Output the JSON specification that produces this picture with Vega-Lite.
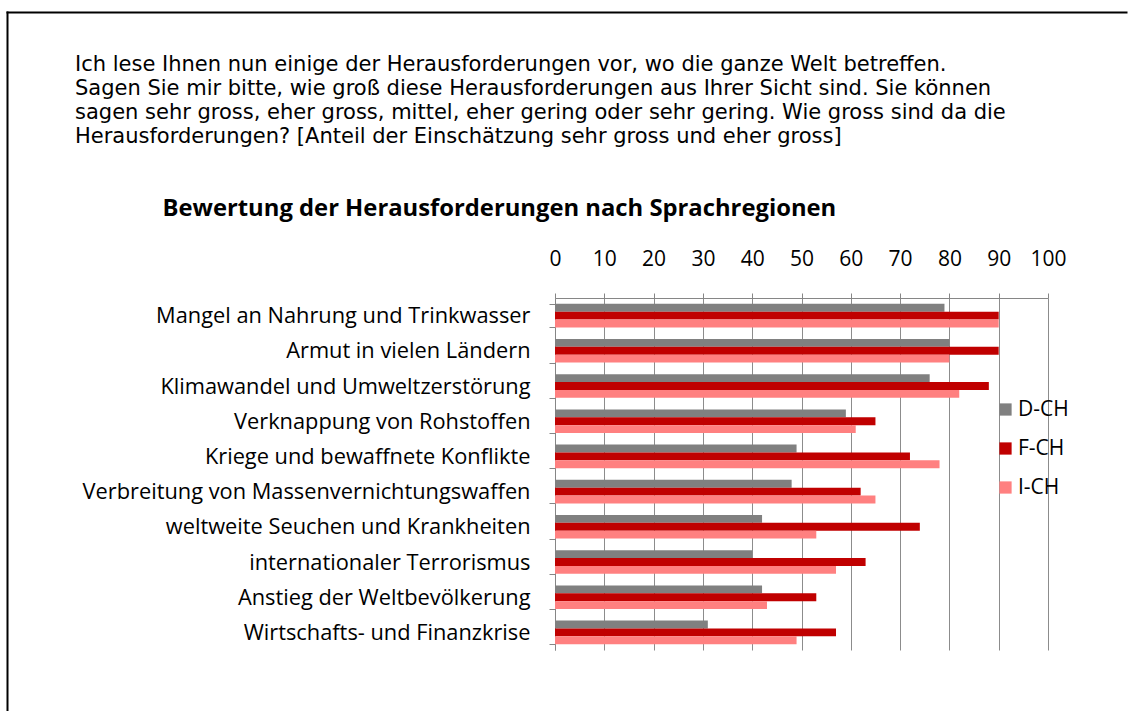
{
  "$schema": "https://vega.github.io/schema/vega-lite/v6.json",
  "width": 493,
  "height": 352,
  "autosize": {"type": "none"},
  "padding": {"left": 555, "top": 298, "right": 82, "bottom": 61},
  "background": "white",
  "title": {
    "text": [
      "Ich lese Ihnen nun einige der Herausforderungen vor, wo die ganze Welt betreffen.",
      "Sagen Sie mir bitte, wie groß diese Herausforderungen aus Ihrer Sicht sind. Sie können",
      "sagen sehr gross, eher gross, mittel, eher gering oder sehr gering. Wie gross sind da die",
      "Herausforderungen? [Anteil der Einschätzung sehr gross und eher gross]"
    ],
    "anchor": "start",
    "frame": "group",
    "dx": -480,
    "font": "DejaVu Sans",
    "fontSize": 21,
    "fontWeight": "normal",
    "lineHeight": 24,
    "color": "black",
    "offset": -135
  },
  "data": {
    "values": [
      {"item": "Mangel an Nahrung und Trinkwasser", "region": "D-CH", "value": 79},
      {"item": "Mangel an Nahrung und Trinkwasser", "region": "F-CH", "value": 90},
      {"item": "Mangel an Nahrung und Trinkwasser", "region": "I-CH", "value": 90},
      {"item": "Armut in vielen Ländern", "region": "D-CH", "value": 80},
      {"item": "Armut in vielen Ländern", "region": "F-CH", "value": 90},
      {"item": "Armut in vielen Ländern", "region": "I-CH", "value": 80},
      {"item": "Klimawandel und Umweltzerstörung", "region": "D-CH", "value": 76},
      {"item": "Klimawandel und Umweltzerstörung", "region": "F-CH", "value": 88},
      {"item": "Klimawandel und Umweltzerstörung", "region": "I-CH", "value": 82},
      {"item": "Verknappung von Rohstoffen", "region": "D-CH", "value": 59},
      {"item": "Verknappung von Rohstoffen", "region": "F-CH", "value": 65},
      {"item": "Verknappung von Rohstoffen", "region": "I-CH", "value": 61},
      {"item": "Kriege und bewaffnete Konflikte", "region": "D-CH", "value": 49},
      {"item": "Kriege und bewaffnete Konflikte", "region": "F-CH", "value": 72},
      {"item": "Kriege und bewaffnete Konflikte", "region": "I-CH", "value": 78},
      {"item": "Verbreitung von Massenvernichtungswaffen", "region": "D-CH", "value": 48},
      {"item": "Verbreitung von Massenvernichtungswaffen", "region": "F-CH", "value": 62},
      {"item": "Verbreitung von Massenvernichtungswaffen", "region": "I-CH", "value": 65},
      {"item": "weltweite Seuchen und Krankheiten", "region": "D-CH", "value": 42},
      {"item": "weltweite Seuchen und Krankheiten", "region": "F-CH", "value": 74},
      {"item": "weltweite Seuchen und Krankheiten", "region": "I-CH", "value": 53},
      {"item": "internationaler Terrorismus", "region": "D-CH", "value": 40},
      {"item": "internationaler Terrorismus", "region": "F-CH", "value": 63},
      {"item": "internationaler Terrorismus", "region": "I-CH", "value": 57},
      {"item": "Anstieg der Weltbevölkerung", "region": "D-CH", "value": 42},
      {"item": "Anstieg der Weltbevölkerung", "region": "F-CH", "value": 53},
      {"item": "Anstieg der Weltbevölkerung", "region": "I-CH", "value": 43},
      {"item": "Wirtschafts- und Finanzkrise", "region": "D-CH", "value": 31},
      {"item": "Wirtschafts- und Finanzkrise", "region": "F-CH", "value": 57},
      {"item": "Wirtschafts- und Finanzkrise", "region": "I-CH", "value": 49}
    ]
  },
  "layer": [
    {
      "mark": {"type": "bar"},
      "encoding": {
        "y": {
          "field": "item",
          "type": "nominal",
          "sort": null,
          "scale": {"paddingInner": 0.33, "paddingOuter": 0.165},
          "axis": {
            "title": null,
            "domainColor": "#868686",
            "tickColor": "#868686",
            "tickSize": 6,
            "tickBand": "extent",
            "labelFont": "Open Sans",
            "labelFontSize": 21.8,
            "labelColor": "black",
            "labelPadding": 19,
            "labelLimit": 600,
            "grid": false
          }
        },
        "x": {
          "field": "value",
          "type": "quantitative",
          "scale": {"domain": [0, 100], "nice": false},
          "axis": {
            "orient": "top",
            "values": [0, 10, 20, 30, 40, 50, 60, 70, 80, 90, 100],
            "grid": true,
            "gridColor": "#8c8c8c",
            "domainColor": "#868686",
            "tickColor": "#868686",
            "tickSize": 5,
            "labelFont": "Open Sans",
            "labelFontSize": 21,
            "labelColor": "black",
            "labelPadding": 24,
            "labelFlush": false,
            "labelOverlap": false,
            "title": "Bewertung der Herausforderungen nach Sprachregionen",
            "titleFont": "Open Sans",
            "titleFontSize": 23.8,
            "titleFontWeight": "bold",
            "titleColor": "black",
            "titleAnchor": "start",
            "titleAlign": "left",
            "titleBaseline": "alphabetic",
            "titleX": -393,
            "titleY": -83
          }
        },
        "yOffset": {"field": "region", "sort": ["D-CH", "F-CH", "I-CH"]},
        "color": {
          "field": "region",
          "type": "nominal",
          "scale": {"domain": ["D-CH", "F-CH", "I-CH"], "range": ["#808080", "#C00000", "#FF8080"]},
          "legend": {
            "title": null,
            "orient": "none",
            "legendX": 440,
            "legendY": 101,
            "symbolType": "square",
            "symbolSize": 150,
            "symbolStrokeWidth": 0,
            "labelFont": "Open Sans",
            "labelFontSize": 21,
            "labelColor": "black",
            "labelOffset": 2,
            "rowPadding": 17
          }
        }
      }
    },
    {
      "mark": {"type": "point", "opacity": 0},
      "encoding": {
        "x": {
          "field": "value",
          "type": "quantitative",
          "scale": {"domain": [0, 100], "range": [-548, 571], "nice": false, "zero": false},
          "axis": {"orient": "top", "offset": 286, "domainColor": "black", "domainWidth": 2, "domainCap": "square", "ticks": false, "labels": false, "grid": false, "title": null}
        },
        "y": {
          "field": "value",
          "type": "quantitative",
          "scale": {"domain": [0, 100], "range": [-286, 420], "nice": false, "zero": false},
          "axis": {"orient": "left", "offset": 548, "domainColor": "black", "domainWidth": 2, "domainCap": "square", "ticks": false, "labels": false, "grid": false, "title": null}
        }
      }
    }
  ],
  "resolve": {"scale": {"x": "independent", "y": "independent"}, "axis": {"x": "independent", "y": "independent"}},
  "config": {"view": {"stroke": null}}
}
